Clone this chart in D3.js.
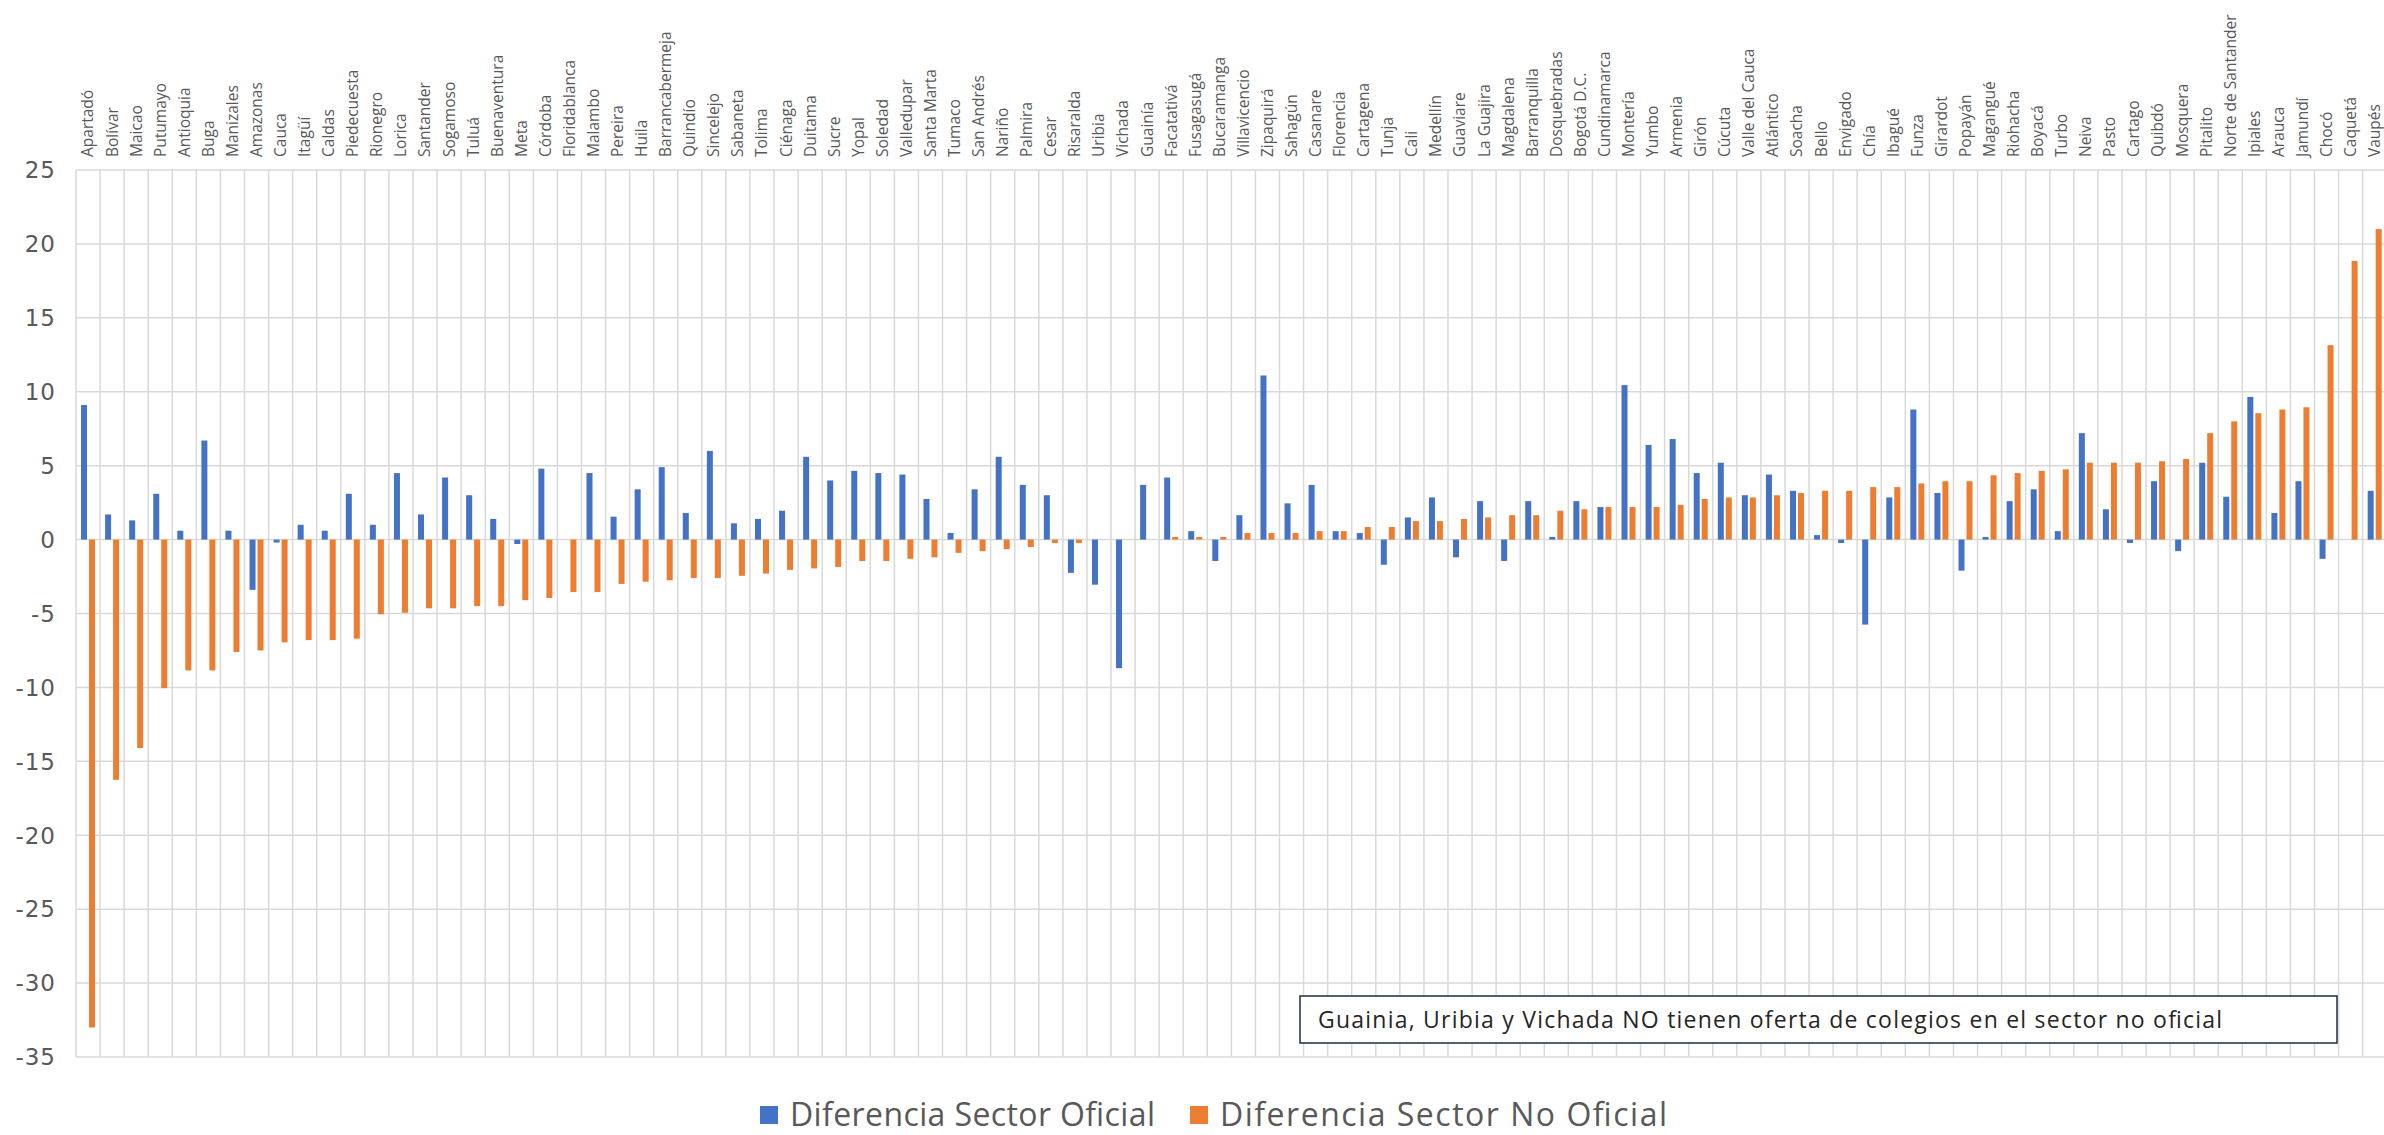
<!DOCTYPE html>
<html>
<head>
<meta charset="utf-8">
<script src="https://cdn.jsdelivr.net/npm/d3@7"></script>
<style>
  body { margin: 0; background: #ffffff; }
  svg { display: block; }
</style>
</head>
<body>
<svg id="chart" width="2384" height="1135"></svg>
<script>
// Municipalities / departments, in display order
const categories = [
  "Apartadó", "Bolívar", "Maicao", "Putumayo", "Antioquia", "Buga", "Manizales", "Amazonas",
  "Cauca", "Itagüí", "Caldas", "Piedecuesta", "Rionegro", "Lorica", "Santander", "Sogamoso",
  "Tuluá", "Buenaventura", "Meta", "Córdoba", "Floridablanca", "Malambo", "Pereira", "Huila",
  "Barrancabermeja", "Quindío", "Sincelejo", "Sabaneta", "Tolima", "Ciénaga", "Duitama", "Sucre",
  "Yopal", "Soledad", "Valledupar", "Santa Marta", "Tumaco", "San Andrés", "Nariño", "Palmira",
  "Cesar", "Risaralda", "Uribia", "Vichada", "Guainía", "Facatativá", "Fusagasugá", "Bucaramanga",
  "Villavicencio", "Zipaquirá", "Sahagún", "Casanare", "Florencia", "Cartagena", "Tunja", "Cali",
  "Medellín", "Guaviare", "La Guajira", "Magdalena", "Barranquilla", "Dosquebradas", "Bogotá D.C.", "Cundinamarca",
  "Montería", "Yumbo", "Armenia", "Girón", "Cúcuta", "Valle del Cauca", "Atlántico", "Soacha",
  "Bello", "Envigado", "Chía", "Ibagué", "Funza", "Girardot", "Popayán", "Magangué",
  "Riohacha", "Boyacá", "Turbo", "Neiva", "Pasto", "Cartago", "Quibdó", "Mosquera",
  "Pitalito", "Norte de Santander", "Ipiales", "Arauca", "Jamundí", "Chocó", "Caquetá", "Vaupés"
];

// Diferencia Sector Oficial
const oficial = [
  9.1, 1.7, 1.3, 3.1, 0.6, 6.7, 0.6, -3.4,
  -0.2, 1.0, 0.6, 3.1, 1.0, 4.5, 1.7, 4.2,
  3.0, 1.4, -0.3, 4.8, 0, 4.5, 1.55, 3.4,
  4.9, 1.8, 6.0, 1.1, 1.4, 1.95, 5.6, 4.0,
  4.65, 4.5, 4.4, 2.75, 0.45, 3.4, 5.6, 3.7,
  3.0, -2.25, -3.05, -8.7, 3.7, 4.2, 0.57, -1.45,
  1.65, 11.1, 2.45, 3.7, 0.57, 0.44, -1.7, 1.5,
  2.85, -1.2, 2.6, -1.45, 2.6, 0.18, 2.6, 2.2,
  10.45, 6.4, 6.8, 4.5, 5.2, 3.0, 4.4, 3.3,
  0.3, -0.23, -5.75, 2.85, 8.8, 3.15, -2.1, 0.18,
  2.6, 3.4, 0.57, 7.2, 2.05, -0.23, 3.95, -0.78,
  5.2, 2.9, 9.65, 1.8, 3.95, -1.3, 0, 3.3
];

// Diferencia Sector No Oficial (null: no private offer)
const noOficial = [
  -33.0, -16.25, -14.1, -10.05, -8.85, -8.85, -7.6, -7.5,
  -6.95, -6.8, -6.8, -6.7, -5.05, -4.95, -4.65, -4.65,
  -4.5, -4.5, -4.1, -3.95, -3.55, -3.55, -3.0, -2.85,
  -2.75, -2.6, -2.6, -2.45, -2.3, -2.05, -1.95, -1.85,
  -1.45, -1.45, -1.3, -1.2, -0.9, -0.78, -0.65, -0.5,
  -0.23, -0.23, null, null, null, 0.18, 0.18, 0.18,
  0.44, 0.44, 0.44, 0.57, 0.57, 0.85, 0.85, 1.25,
  1.25, 1.4, 1.5, 1.65, 1.65, 1.95, 2.05, 2.2,
  2.2, 2.2, 2.35, 2.75, 2.85, 2.85, 3.0, 3.15,
  3.3, 3.3, 3.55, 3.55, 3.8, 3.95, 3.95, 4.35,
  4.5, 4.65, 4.75, 5.2, 5.2, 5.2, 5.3, 5.45,
  7.2, 8.0, 8.55, 8.8, 8.95, 13.15, 18.85, 21.0
];

const yTicks = [25, 20, 15, 10, 5, 0, -5, -10, -15, -20, -25, -30, -35];
const seriesNames = ["Diferencia Sector Oficial", "Diferencia Sector No Oficial"];
const seriesColors = ["#4472C4", "#ED7D31"];
const note = "Guainia, Uribia y Vichada NO tienen oferta de colegios en el sector no oficial";

const svg = d3.select("#chart");
const gridColor = "#D9D9D9";
const textColor = "#595959";

const plotLeft = 76, plotTop = 170, plotBottom = 1057;
const colW = 24.07;
const plotRight = plotLeft + colW * categories.length;

const x = d3.scaleBand().domain(categories).range([plotLeft, plotRight]).padding(0);
const y = d3.scaleLinear().domain([-35, 25]).range([plotBottom, plotTop]);

// horizontal gridlines
svg.append("g").selectAll("line").data(yTicks).join("line")
  .attr("x1", plotLeft).attr("x2", plotRight)
  .attr("y1", d => y(d)).attr("y2", d => y(d))
  .attr("stroke", gridColor).attr("stroke-width", 1.5);

// vertical gridlines at category boundaries
const bounds = categories.map(c => x(c)).concat([plotRight]);
svg.append("g").selectAll("line").data(bounds).join("line")
  .attr("x1", d => d).attr("x2", d => d)
  .attr("y1", y(25)).attr("y2", y(-35))
  .attr("stroke", gridColor).attr("stroke-width", 1.5);

// y axis labels
svg.append("g").selectAll("text").data(yTicks).join("text")
  .attr("x", 56).attr("y", d => y(d))
  .attr("dy", "0.36em")
  .attr("text-anchor", "end")
  .attr("font-family", "DejaVu Sans, sans-serif")
  .attr("font-size", 23)
  .attr("letter-spacing", 1)
  .attr("fill", textColor)
  .text(d => d);

// category labels, rotated, reading upward
svg.append("g").selectAll("text").data(categories).join("text")
  .attr("transform", d => `translate(${x(d) + x.bandwidth() / 2},157) rotate(-90)`)
  .attr("dy", "0.35em")
  .attr("text-anchor", "start")
  .attr("font-family", "Open Sans, sans-serif")
  .attr("font-size", 15.5)
  .attr("fill", textColor)
  .text(d => d);

// bars
const barW = 6;
const series = [oficial, noOficial];
const offsets = [-7, 1];
series.forEach((vals, si) => {
  const data = categories.map((c, i) => ({ c, v: vals[i] })).filter(d => d.v !== null && d.v !== 0);
  svg.append("g").selectAll("rect").data(data).join("rect")
    .attr("x", d => x(d.c) + x.bandwidth() / 2 + offsets[si])
    .attr("width", barW)
    .attr("y", d => y(Math.max(0, d.v)))
    .attr("height", d => Math.abs(y(d.v) - y(0)))
    .attr("fill", seriesColors[si]);
});

// note box
const noteG = svg.append("g");
noteG.append("rect")
  .attr("x", 1300).attr("y", 996).attr("width", 1037).attr("height", 47)
  .attr("fill", "#ffffff").attr("stroke", "#1F2A4A").attr("stroke-width", 1.5);
noteG.append("text")
  .attr("x", 1318).attr("y", 1020).attr("dy", "0.35em")
  .attr("font-family", "Open Sans, sans-serif")
  .attr("font-size", 23)
  .attr("textLength", 904)
  .attr("lengthAdjust", "spacing")
  .attr("fill", "#262626")
  .text(note);

// legend
const legendX = [760, 1190];
const legendLen = [365, 447];
const legend = svg.append("g").selectAll("g").data(seriesNames).join("g")
  .attr("transform", (d, i) => `translate(${legendX[i]},1115)`);
legend.append("rect").attr("x", 0).attr("y", -9).attr("width", 18).attr("height", 18)
  .attr("fill", (d, i) => seriesColors[i]);
legend.append("text").attr("x", 30).attr("y", 0).attr("dy", "0.35em")
  .attr("font-family", "Open Sans, sans-serif")
  .attr("font-size", 32)
  .attr("textLength", (d, i) => legendLen[i])
  .attr("lengthAdjust", "spacing")
  .attr("fill", textColor)
  .text(d => d);
</script>
</body>
</html>
